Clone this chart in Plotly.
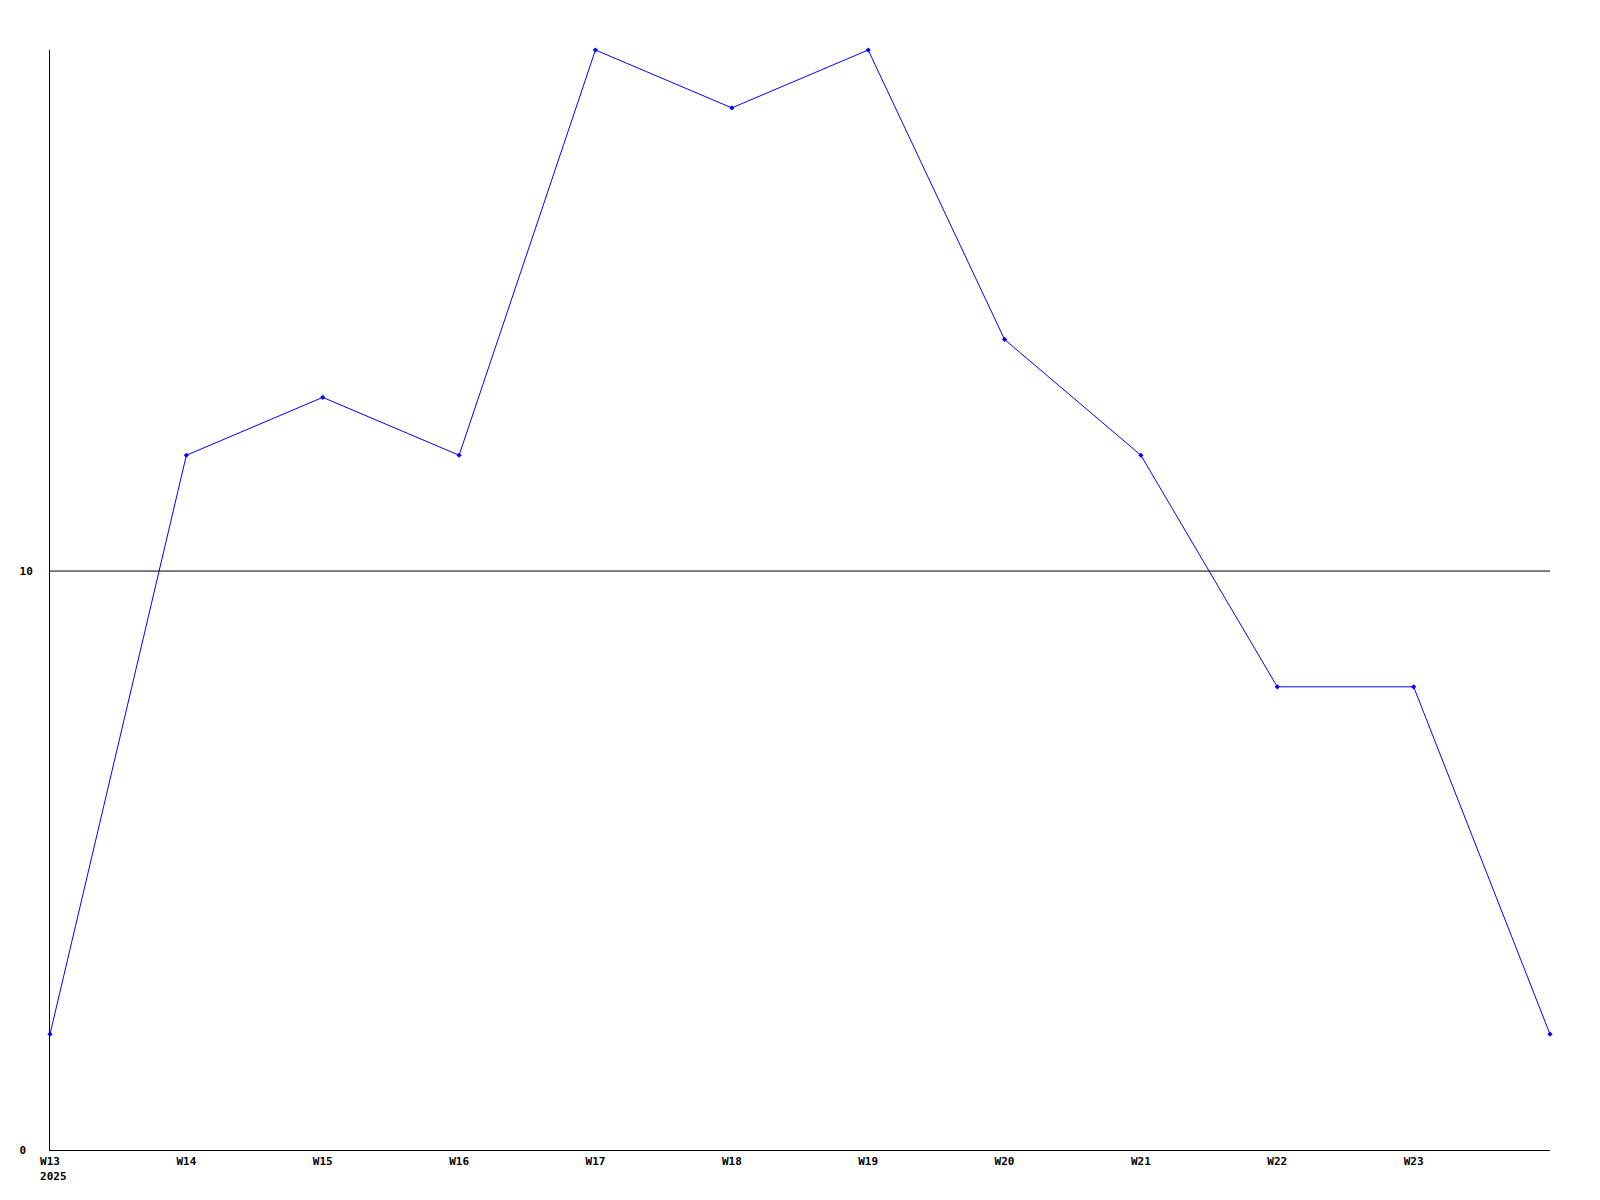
import plotly.graph_objects as go

weeks = ["W13", "W14", "W15", "W16", "W17", "W18", "W19", "W20", "W21", "W22", "W23", "W24"]
values = [2, 12, 13, 12, 19, 18, 19, 14, 12, 8, 8, 2]
tick_labels = ["W13<br>\u00a02025", "W14", "W15", "W16", "W17", "W18", "W19", "W20", "W21", "W22", "W23"]
y_ticks = [0, 10]
y_tick_labels = ["0\u00a0", "10"]

xs = list(range(len(weeks)))
font = dict(family="DejaVu Sans Mono", size=11, color="black")

fig = go.Figure()
fig.add_trace(go.Scatter(
    x=xs, y=values, mode="lines+markers",
    line=dict(color="#0000ff", width=1),
    marker=dict(symbol="diamond", size=4, color="#0000ff"),
    text=weeks, hoverinfo="text+y", cliponaxis=False,
))
fig.add_hline(y=10, line=dict(color="black", width=1))

fig.update_layout(
    width=1600, height=1200,
    margin=dict(l=42, r=58, t=42, b=58),
    paper_bgcolor="white", plot_bgcolor="white",
    showlegend=False,
    font=font,
    xaxis=dict(
        range=[0, len(weeks) - 1],
        tickvals=xs[:len(tick_labels)], ticktext=["<b>%s</b>" % t for t in tick_labels],
        showgrid=False, zeroline=False, showline=True, linecolor="black", linewidth=1,
        ticks="", tickfont=font, ticklabelstandoff=1,
    ),
    yaxis=dict(
        range=[0, 19],
        tickvals=y_ticks, ticktext=["<b>%s</b>" % t for t in y_tick_labels],
        showgrid=False, zeroline=False, showline=True, linecolor="black", linewidth=1,
        ticks="", tickfont=font, ticklabelstandoff=14,
    ),
)
fig.write_html("out.html")
